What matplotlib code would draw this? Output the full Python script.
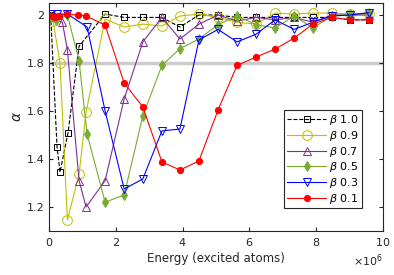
import numpy as np
import matplotlib.pyplot as plt
from matplotlib.ticker import ScalarFormatter, FormatStrFormatter

# Energy values in units of 1e6 excited atoms, alpha
x_b10 = [0.05, 0.24, 0.33, 0.57, 0.9, 1.68, 2.25, 2.81, 3.38, 3.92, 4.49, 5.06,
         5.63, 6.2, 6.77, 7.34, 7.9, 8.47, 9.01, 9.58]
a_b10 = [2.0, 1.45, 1.345, 1.51, 1.87, 2.004, 1.99, 1.99, 1.99, 1.95, 2.0, 2.0,
         1.99, 1.99, 1.99, 1.99, 1.99, 1.99, 1.98, 1.98]

x_b09 = [0.12, 0.33, 0.55, 0.9, 1.11, 1.68, 2.25, 2.81, 3.38, 3.92, 4.49, 5.06,
         5.63, 6.2, 6.77, 7.34, 7.9, 8.47, 9.01, 9.58]
a_b09 = [1.975, 1.8, 1.146, 1.337, 1.596, 1.983, 1.95, 1.962, 1.954, 1.996, 2.004, 1.99,
         1.97, 1.962, 2.008, 2.004, 2.008, 2.008, 2.004, 2.004]

x_b07 = [0.05, 0.4, 0.55, 0.9, 1.11, 1.68, 2.25, 2.81, 3.38, 3.92, 4.49, 5.06,
         5.63, 6.2, 6.77, 7.34, 7.9, 8.47, 9.01, 9.58]
a_b07 = [1.99, 1.97, 1.855, 1.31, 1.2, 1.31, 1.65, 1.888, 1.99, 1.9, 1.962, 2.0,
         1.975, 1.99, 1.98, 1.99, 1.97, 2.0, 2.0, 2.0]

x_b05 = [0.05, 0.2, 0.55, 0.9, 1.14, 1.68, 2.25, 2.81, 3.38, 3.92, 4.49, 5.06,
         5.63, 6.2, 6.77, 7.34, 7.9, 8.47, 9.01, 9.58]
a_b05 = [1.99, 1.98, 2.0, 1.81, 1.504, 1.22, 1.25, 1.58, 1.79, 1.86, 1.9, 1.96,
         1.996, 1.96, 1.946, 1.996, 1.946, 1.996, 2.004, 2.008]

x_b03 = [0.05, 0.25, 0.55, 1.14, 1.68, 2.25, 2.81, 3.38, 3.92, 4.49, 5.06,
         5.63, 6.2, 6.77, 7.34, 7.9, 8.47, 9.01, 9.58]
a_b03 = [2.004, 2.004, 2.004, 1.95, 1.6, 1.275, 1.317, 1.517, 1.525, 1.896, 1.94,
         1.888, 1.92, 1.98, 1.94, 1.97, 1.996, 2.0, 2.01]

x_b01 = [0.09, 0.18, 0.3, 0.54, 0.87, 1.11, 1.68, 2.25, 2.81, 3.38, 3.92, 4.49,
         5.06, 5.63, 6.2, 6.77, 7.34, 7.9, 8.47, 9.01, 9.58]
a_b01 = [1.996, 1.992, 1.996, 2.004, 2.0, 1.996, 1.958, 1.717, 1.617, 1.388, 1.354, 1.392,
         1.604, 1.79, 1.825, 1.858, 1.904, 1.962, 1.99, 1.98, 1.98]

plt.rcParams['font.size'] = 8

fig = plt.figure(figsize=(3.94, 2.75), dpi=100)
ax = fig.add_axes([0.1244, 0.16, 0.8476, 0.829])

ax.axhline(1.8, color='0.8', lw=2.5, zorder=0)

e = 1e6
kw = dict(lw=0.8, mew=0.7)
ax.plot(np.array(x_b10) * e, a_b10, '--s', color='k', mfc='none', ms=4.5, label=r'$\beta$ 1.0', **kw)
ax.plot(np.array(x_b09) * e, a_b09, '-o', color='#BFBF00', mfc='none', ms=7, label=r'$\beta$ 0.9', **kw)
ax.plot(np.array(x_b07) * e, a_b07, '-^', color='#7E2F8E', mfc='none', ms=6, label=r'$\beta$ 0.7', **kw)
ax.plot(np.array(x_b05) * e, a_b05, '-d', color='#77AC30', mfc='#77AC30', ms=5.5, label=r'$\beta$ 0.5', **kw)
ax.plot(np.array(x_b03) * e, a_b03, '-v', color='b', mfc='none', ms=6, label=r'$\beta$ 0.3', **kw)
ax.plot(np.array(x_b01) * e, a_b01, '-o', color='r', mfc='r', ms=4.5, label=r'$\beta$ 0.1', **kw)

ax.set_xlim(0, 10e6)
ax.set_ylim(1.1, 2.05)
ax.set_yticks([1.2, 1.4, 1.6, 1.8, 2.0])
ax.yaxis.set_major_formatter(FormatStrFormatter('%g'))
fmt = ScalarFormatter(useMathText=True)
fmt.set_powerlimits((6, 6))
ax.xaxis.set_major_formatter(fmt)

ax.tick_params(direction='in', top=True, right=True, length=3, labelsize=8, colors='0.15')
for s in ax.spines.values():
    s.set_color('0.15')
    s.set_linewidth(0.8)

ax.set_xlabel('Energy (excited atoms)', fontsize=8.5, color='0.15', labelpad=3)
ax.set_ylabel(r'$\alpha$', fontsize=10, color='0.15', labelpad=2)

leg = ax.legend(loc='lower right', bbox_to_anchor=(0.953, 0.075), fontsize=8,
                handlelength=3.5, fancybox=False, framealpha=1, edgecolor='0.15',
                borderpad=0.25, labelspacing=0.15, handletextpad=0.3)
leg.get_frame().set_linewidth(0.8)

fig.savefig('out.png', dpi=100)
